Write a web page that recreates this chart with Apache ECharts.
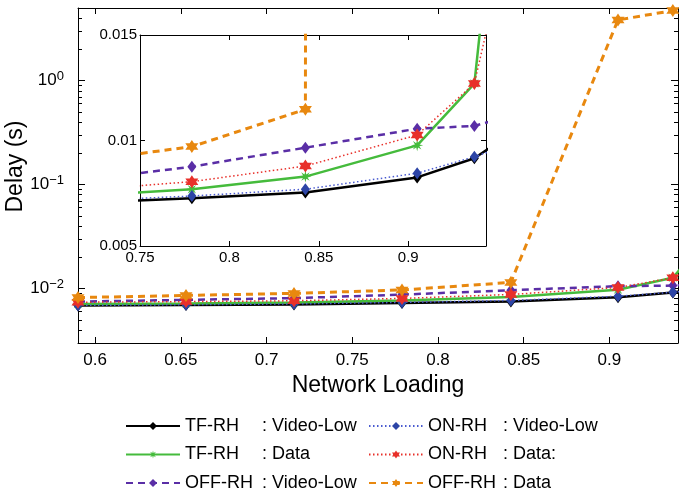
<!DOCTYPE html>
<html>
<head>
<meta charset="utf-8">
<script src="https://cdn.jsdelivr.net/npm/echarts@6/dist/echarts.min.js"></script>
<style>
html, body { margin: 0; padding: 0; background: #fff; }
#chart { width: 679px; height: 491px; }
</style>
</head>
<body>
<div id="chart"></div>
<script>
var FONT = 'Liberation Sans, Arial, sans-serif';

// network loading (x) and delay in seconds (y)
var loading  = [0.59, 0.653, 0.716, 0.779, 0.8425, 0.905, 0.937, 0.95];
var tfVideo  = [0.0069, 0.00697, 0.00705, 0.00726, 0.00754, 0.00825, 0.00916, 0.0099];
var tfData   = [0.0071, 0.0072, 0.00736, 0.00769, 0.00829, 0.00977, 0.0127, 0.023];
var offVideo = [0.0075, 0.0078, 0.0081, 0.00876, 0.00966, 0.01056, 0.01069, 0.011];
var onVideo  = [0.0069, 0.0070, 0.00713, 0.00737, 0.00769, 0.00845, 0.00923, 0.0096];
var onData   = [0.0074, 0.0075, 0.00764, 0.00805, 0.00879, 0.01026, 0.0127, 0.0175];
var offData  = [0.0082, 0.0086, 0.0090, 0.00971, 0.01148, 3.84, 4.72, 5.2];

// tick labels
var mainXTicks  = [0.6, 0.65, 0.7, 0.75, 0.8, 0.85, 0.9];
var mainYTicks  = [0.01, 0.1, 1];
var insetXTicks = [0.75, 0.8, 0.85, 0.9];
var insetYTicks = [0.005, 0.01, 0.015];

// minor log ticks 2..9 per decade
var minorYTicks = [];
[0.001, 0.01, 0.1, 1].forEach(function (d) {
    for (var m = 2; m <= 9; m++) {
        var v = +(m * d).toPrecision(3);
        if (v > 0.0031 && v < 4.9) minorYTicks.push(v);
    }
});

var hexagram = 'path://M0,-10L2.89,-5L8.66,-5L5.77,0L8.66,5L2.89,5L0,10L-2.89,5L-8.66,5L-5.77,0L-8.66,-5L-2.89,-5Z';
var asterisk = 'path://M0,-10L1.5,-3.6L7.07,-7.07L3.6,-1.5L10,0L3.6,1.5L7.07,7.07L1.5,3.6L0,10L-1.5,3.6L-7.07,7.07L-3.6,1.5L-10,0L-3.6,-1.5L-7.07,-7.07L-1.5,-3.6Z';

var lines = [
    { name: 'TF-RH : Video-Low',  data: tfVideo,  color: '#000000', mark: '#000000', type: 'solid',  width: 2.5, symbol: 'diamond', size: [9, 12] },
    { name: 'TF-RH : Data',       data: tfData,   color: '#45bb3c', mark: '#45bb3c', type: 'solid',  width: 2.5, symbol: asterisk,  size: 12 },
    { name: 'OFF-RH : Video-Low', data: offVideo, color: '#5a2ea6', mark: '#5a2ea6', type: [7, 5],   width: 2.5, symbol: 'diamond', size: [9, 12] },
    { name: 'ON-RH : Video-Low',  data: onVideo,  color: '#4a5bd0', mark: '#2c44a6', type: [1.5, 2.5], width: 1.5, symbol: 'diamond', size: [9, 12] },
    { name: 'ON-RH : Data:',      data: onData,   color: '#e8302a', mark: '#e8302a', type: [1.5, 2.5], width: 1.5, symbol: hexagram,  size: 13 },
    { name: 'OFF-RH : Data',      data: offData,  color: '#e8880f', mark: '#e8880f', type: [7, 5],   width: 3,   symbol: hexagram,  size: 13 }
];

function pairs(ys) {
    return loading.map(function (x, i) { return [x, ys[i]]; });
}

function makeSeries(l, xi, yi, z) {
    return {
        name: l.name,
        type: 'line',
        xAxisIndex: xi,
        yAxisIndex: yi,
        z: z,
        data: pairs(l.data),
        symbol: l.symbol,
        symbolSize: l.size,
        showAllSymbol: true,
        clip: true,
        lineStyle: { color: l.color, width: l.width, type: l.type },
        itemStyle: { color: l.mark },
        emphasis: { disabled: true },
        animation: false
    };
}

var series = [];
lines.forEach(function (l) { series.push(makeSeries(l, 0, 0, 2)); });
lines.forEach(function (l) { series.push(makeSeries(l, 2, 4, 12)); });

function supLabel(v) {
    var e = Math.round(Math.log10(v));
    return '{b|10}{s|' + (e < 0 ? '\u2212' + (-e) : e) + '}';
}

var black = { color: '#000', width: 1 };

function xAxisDef(grid, pos, min, max, ticks, opts) {
    return Object.assign({
        gridIndex: grid, type: 'value', position: pos, min: min, max: max,
        axisLine: { onZero: false, lineStyle: black },
        axisTick: { inside: true, length: 6, customValues: ticks, lineStyle: black },
        axisLabel: { show: false },
        splitLine: { show: false }
    }, opts || {});
}

var legendText = {
    color: '#000',
    fontFamily: FONT,
    fontSize: 18,
    rich: {
        n1: { fontFamily: FONT, fontSize: 18, width: 77, lineHeight: 12, color: '#000' },
        n2: { fontFamily: FONT, fontSize: 18, width: 75, lineHeight: 12, color: '#000' },
        t:  { fontFamily: FONT, fontSize: 18, lineHeight: 12, color: '#000' }
    }
};

function legendDef(names, left, key) {
    return {
        data: names,
        orient: 'vertical',
        left: left,
        top: 417,
        height: 90,
        padding: 0,
        itemWidth: 54,
        itemHeight: 10,
        itemGap: 10.5,
        selectedMode: false,
        textStyle: legendText,
        formatter: function (name) {
            var p = name.split(' : ');
            return '{' + key + '|' + p[0] + '}{t|: ' + p[1] + '}';
        }
    };
}

var chart = echarts.init(document.getElementById('chart'));
chart.setOption({
    backgroundColor: '#fff',
    animation: false,
    textStyle: { fontFamily: FONT },
    legend: [
        legendDef([lines[0].name, lines[1].name, lines[2].name], 125, 'n1'),
        legendDef([lines[3].name, lines[4].name, lines[5].name], 368, 'n2')
    ],
    grid: [
        { left: 78, top: 8, width: 600, height: 335, containLabel: false, outerBoundsMode: 'none' },
        { left: 140, top: 35, width: 346, height: 211, containLabel: false, outerBoundsMode: 'none',
          show: true, backgroundColor: '#fff', borderWidth: 0, z: 10 }
    ],
    xAxis: [
        xAxisDef(0, 'bottom', 0.59, 0.94, mainXTicks, {
            axisLabel: { customValues: mainXTicks, margin: 9, fontSize: 17, color: '#000', fontFamily: FONT },
            name: 'Network Loading', nameLocation: 'middle', nameGap: 31, nameMoveOverlap: false,
            nameTextStyle: { fontSize: 23, color: '#000', fontFamily: FONT }
        }),
        xAxisDef(0, 'top', 0.59, 0.94, mainXTicks),
        xAxisDef(1, 'bottom', 0.75, 0.9435, insetXTicks, {
            z: 11,
            axisTick: { inside: true, length: 5, customValues: insetXTicks, lineStyle: black },
            axisLabel: { customValues: insetXTicks, margin: 4, fontSize: 15, color: '#000', fontFamily: FONT }
        }),
        xAxisDef(1, 'top', 0.75, 0.9435, insetXTicks, {
            z: 11,
            axisTick: { inside: true, length: 5, customValues: insetXTicks, lineStyle: black }
        })
    ],
    yAxis: [
        {
            gridIndex: 0, type: 'log', logBase: 10, min: 0.003, max: 5, position: 'left',
            axisLine: { onZero: false, lineStyle: black },
            axisTick: { inside: true, length: 7, customValues: mainYTicks, lineStyle: black },
            axisLabel: {
                customValues: mainYTicks, margin: 14, color: '#000', formatter: supLabel,
                rich: {
                    b: { fontFamily: FONT, fontSize: 17, lineHeight: 22, color: '#000' },
                    s: { fontFamily: FONT, fontSize: 13, lineHeight: 12, verticalAlign: 'top', color: '#000' }
                }
            },
            splitLine: { show: false },
            name: 'Delay (s)', nameLocation: 'middle', nameGap: 51, nameMoveOverlap: false,
            nameTextStyle: { fontSize: 23, color: '#000', fontFamily: FONT, padding: [0, 0, 0, 18] }
        },
        {
            gridIndex: 0, type: 'log', logBase: 10, min: 0.003, max: 5, position: 'left',
            axisLine: { show: false },
            axisTick: { inside: true, length: 4, customValues: minorYTicks, lineStyle: black },
            axisLabel: { show: false },
            splitLine: { show: false }
        },
        {
            gridIndex: 0, type: 'log', logBase: 10, min: 0.003, max: 5, position: 'right',
            axisLine: { onZero: false, lineStyle: black },
            axisTick: { inside: true, length: 7, customValues: mainYTicks, lineStyle: black },
            axisLabel: { show: false },
            splitLine: { show: false }
        },
        {
            gridIndex: 0, type: 'log', logBase: 10, min: 0.003, max: 5, position: 'right',
            axisLine: { show: false },
            axisTick: { inside: true, length: 4, customValues: minorYTicks, lineStyle: black },
            axisLabel: { show: false },
            splitLine: { show: false }
        },
        {
            gridIndex: 1, type: 'value', min: 0.005, max: 0.015, interval: 0.005, position: 'left', z: 11,
            axisLine: { onZero: false, lineStyle: black },
            axisTick: { inside: true, length: 5, lineStyle: black },
            axisLabel: { margin: 3, fontSize: 15, color: '#000', fontFamily: FONT },
            splitLine: { show: false }
        },
        {
            gridIndex: 1, type: 'value', min: 0.005, max: 0.015, interval: 0.005, position: 'right', z: 11,
            axisLine: { onZero: false, lineStyle: black },
            axisTick: { inside: true, length: 5, lineStyle: black },
            axisLabel: { show: false },
            splitLine: { show: false }
        }
    ],
    series: series
});

window.onresize = function () {
    chart.resize();
};
</script>
</body>
</html>
